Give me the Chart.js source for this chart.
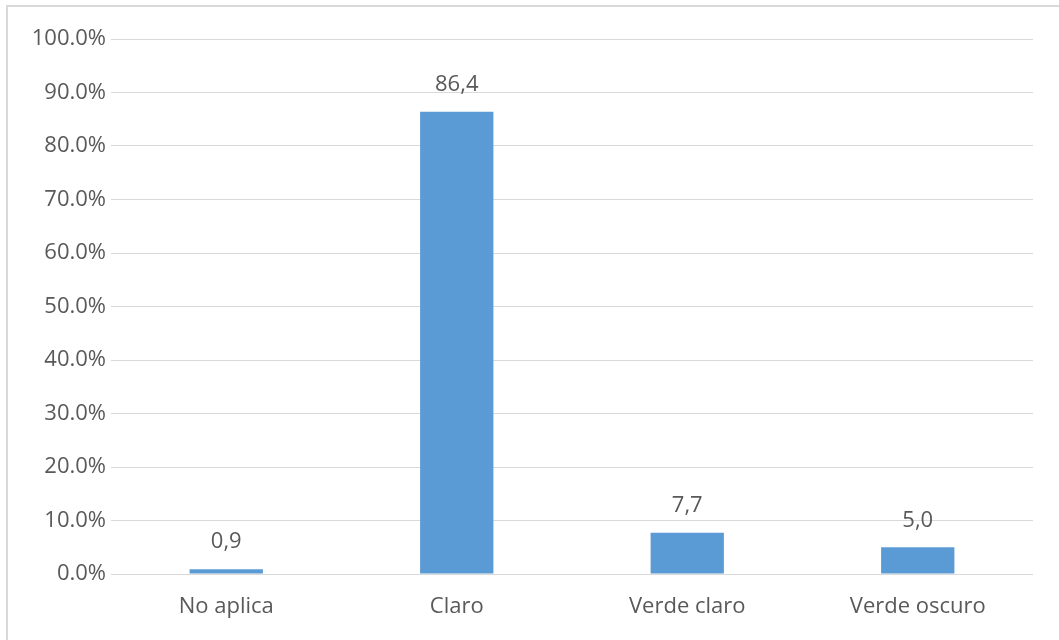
<!DOCTYPE html>
<html>
<head>
<meta charset="utf-8">
<script src="https://cdn.jsdelivr.net/npm/chart.js@4.4.0/dist/chart.umd.min.js"></script>
<style>
  html, body { margin: 0; padding: 0; background: #fff; }
  #frame {
    position: absolute; left: 6px; top: 5px; width: 1100px; height: 700px;
    border: 2px solid #d9d9d9; box-sizing: border-box;
  }
  #wrap { position: absolute; left: 0; top: 0; width: 1059px; height: 640px; }
</style>
</head>
<body>
<div id="frame"></div>
<div id="wrap"><canvas id="chart"></canvas></div>
<script>
const categories = ["No aplica", "Claro", "Verde claro", "Verde oscuro"];
const values = [0.9, 86.4, 7.7, 5.0];
const valueLabels = ["0,9", "86,4", "7,7", "5,0"];

const FONT = "'Open Sans', sans-serif";
const TEXT = "#595959";

// etiquetas encima de cada barra
const barLabels = {
  id: "barLabels",
  afterDatasetsDraw(chart) {
    const ctx = chart.ctx;
    const meta = chart.getDatasetMeta(0);
    ctx.save();
    ctx.font = "22px " + FONT;
    ctx.fillStyle = TEXT;
    ctx.textAlign = "center";
    ctx.textBaseline = "middle";
    meta.data.forEach((bar, i) => {
      ctx.fillText(valueLabels[i], bar.x, bar.y - 27);
    });
    ctx.restore();
  }
};

new Chart(document.getElementById("chart"), {
  type: "bar",
  data: {
    labels: categories,
    datasets: [{
      data: values,
      backgroundColor: "#5B9BD5",
      categoryPercentage: 1,
      barPercentage: 0.318
    }]
  },
  options: {
    responsive: true,
    maintainAspectRatio: false,
    animation: false,
    layout: { padding: { top: 39, right: 26, bottom: 0, left: 0 } },
    plugins: { legend: { display: false }, tooltip: { enabled: false } },
    scales: {
      x: {
        grid: { display: false, drawTicks: false },
        border: { display: false },
        ticks: { color: TEXT, font: { family: FONT, size: 22 }, padding: 20 },
        afterFit(scale) { scale.height = 66; }
      },
      y: {
        min: 0,
        max: 100,
        grid: { color: "#d9d9d9", lineWidth: 1, drawTicks: false },
        border: { display: false },
        ticks: {
          stepSize: 10,
          color: TEXT,
          font: { family: FONT, size: 22 },
          padding: 5,
          callback: v => v.toFixed(1) + "%"
        },
        afterFit(scale) { scale.width = 111; }
      }
    }
  },
  plugins: [barLabels]
});
</script>
</body>
</html>
